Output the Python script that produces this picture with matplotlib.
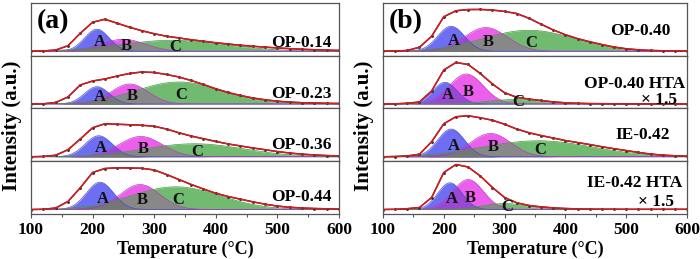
import numpy as np
import matplotlib
matplotlib.use('Agg')
import matplotlib.pyplot as plt
from matplotlib.ticker import MultipleLocator

plt.rcParams['font.family'] = ['Liberation Serif', 'DejaVu Serif']
plt.rcParams['font.weight'] = 'bold'

# Temperature grid of the read-off TPD profiles (deg C)
temperature = np.arange(100, 601, 20)

op014 = [0, 0.3, 1.2, 5.5, 18, 29, 32, 28, 24, 20.5, 17.5, 15, 13.3, 11.5, 10, 8.5,
         7.2, 6, 5, 4.1, 3.3, 2.6, 2, 1.5, 1.1, 0.8]
op023 = [0, 0.2, 1.5, 7, 19, 23, 25, 28, 30.5, 32, 31.5, 29.5, 27, 23.5, 19.5, 15.2,
         11.5, 8.5, 6, 4.2, 2.8, 1.9, 1.3, 1, 0.7, 0.5]
op036 = [0, 0.3, 1.5, 7, 17.7, 29, 33, 32.5, 32, 31.5, 30.5, 27.7, 24, 20.7, 18, 15.3,
         12.8, 10.8, 8.8, 7, 5.2, 3.7, 2.6, 1.8, 1.2, 0.8]
op044 = [0, 0.2, 1.5, 8, 21.7, 37, 41, 41.7, 41.5, 41.2, 39.5, 35, 30, 25, 20.5, 16.2,
         13, 10.3, 7.7, 5.3, 3.4, 2.2, 1.5, 1, 0.7, 0.5]
op040 = [0, 0.2, 0.8, 4, 15, 34.5, 40.5, 41.7, 41.8, 41.2, 39.8, 37.7, 33, 27, 21.3, 16.5,
         12.6, 9.5, 6.7, 4.2, 2.5, 1.4, 0.8, 0.5, 0.3, 0.2]
op040_hta = [0, 0.2, 0.7, 2, 13, 34, 41.5, 39.5, 30.5, 20, 11.2, 6.7, 4.9, 3.5, 2.1, 1.2,
             0.7, 0.4, 0.3, 0.2, 0.1, 0.1, 0.1, 0.1, 0.1, 0.1]
ie042 = [0, 0.2, 0.8, 2.5, 15, 33, 40, 41, 39, 36.5, 32.5, 27.7, 24, 21.2, 18.7, 16.2,
         14.2, 12.2, 10, 8, 6.2, 4.3, 2.7, 1.6, 1, 0.6]
ie042_hta = [0, 0.2, 0.8, 2, 12, 37, 45, 42.5, 33.5, 22, 12, 6.7, 4, 2.6, 1.6, 1,
             0.6, 0.4, 0.3, 0.3, 0.2, 0.2, 0.2, 0.2, 0.2, 0.2]

# Gaussian components A, B, C: (centre deg C, sigma deg C, height a.u.)
peaks_op014 = [(207, 20, 22), (250, 35, 12), (330, 85, 11)]
peaks_op023 = [(207, 20, 17.3), (260, 30, 20), (340, 70, 22)]
peaks_op036 = [(210, 22, 21), (278, 35, 20.3), (365, 80, 13)]
peaks_op044 = [(212, 22, 27.3), (277, 32, 25), (335, 72, 22.7)]
peaks_op040 = [(212, 22, 25), (269, 35, 23.7), (340, 75, 21)]
peaks_op040_hta = [(202, 20, 21.7), (237, 28, 30), (318, 45, 4.5)]
peaks_ie042 = [(212, 22, 27.7), (277, 33, 23.3), (355, 90, 16)]
peaks_ie042_hta = [(210, 20, 26.7), (240, 25, 30), (300, 35, 6)]

names_a = ['OP-0.14', 'OP-0.23', 'OP-0.36', 'OP-0.44']
names_b = ['OP-0.40', 'OP-0.40 HTA', 'IE-0.42', 'IE-0.42 HTA']
scale_b = ['', '\u00d7 1.5', '', '\u00d7 1.5']

panel_a = [(op014, peaks_op014), (op023, peaks_op023), (op036, peaks_op036), (op044, peaks_op044)]
panel_b = [(op040, peaks_op040), (op040_hta, peaks_op040_hta), (ie042, peaks_ie042),
           (ie042_hta, peaks_ie042_hta)]

# where the sample names sit (axes fractions)
name_pos_a = [(0.977, 0.25), (0.977, 0.28), (0.977, 0.31), (0.977, 0.33)]
name_pos_b = [(0.947, 0.46), (0.993, 0.47), (0.944, 0.5), (0.984, 0.58)]
scale_pos_b = [None, (0.967, 0.17), None, (0.957, 0.22)]

col_A = '#6e6ef2'
col_B = '#ec5eec'
col_C = '#70bb70'
col_AB = '#9a48d4'
col_BC = '#888888'
col_AC = '#6a6a9c'
col_ABC = '#767676'

T_fine = np.linspace(100, 600, 501)


def gauss(c, s, h):
    return h*np.exp(-(T_fine-c)**2/(2*s**2))


fig = plt.figure(figsize=(7.0, 2.59), dpi=100)

top_px = 3
bot_px = 214
row_px = (bot_px-top_px)/4.0
panels = [(31, 308, panel_a, names_a, name_pos_a, [''] * 4, [None] * 4, '(a)'),
          (383, 304, panel_b, names_b, name_pos_b, scale_b, scale_pos_b, '(b)')]

for left_px, width_px, rows, names, npos, scales, spos, tag in panels:
    axs = []
    for i in range(4):
        y0 = 1-(top_px+(i+1)*row_px)/259.0
        ax = fig.add_axes([left_px/700.0, y0, width_px/700.0, row_px/259.0])
        axs.append(ax)
        prof, pk = rows[i]
        gA = gauss(*pk[0])
        gB = gauss(*pk[1])
        gC = gauss(*pk[2])
        ax.fill_between(T_fine, 0, gA, color=col_A, lw=0)
        ax.fill_between(T_fine, 0, gB, color=col_B, lw=0)
        ax.fill_between(T_fine, 0, gC, color=col_C, lw=0)
        ax.fill_between(T_fine, 0, np.minimum(gA, gB), color=col_AB, lw=0)
        ax.fill_between(T_fine, 0, np.minimum(gB, gC), color=col_BC, lw=0)
        ax.fill_between(T_fine, 0, np.minimum(gA, gC), color=col_AC, lw=0)
        ax.fill_between(T_fine, 0, np.minimum(np.minimum(gA, gB), gC), color=col_ABC, lw=0)
        ax.plot(T_fine, gA, color='#4a4ad8', lw=0.5)
        ax.plot(T_fine, gB, color='#c030c0', lw=0.5)
        ax.plot(T_fine, gC, color='#3f9a3f', lw=0.5)
        ax.plot(temperature, prof, color='#333333', lw=1.1, marker='o', ms=1.1)
        ax.plot(temperature, prof, color='#e8141c', lw=1.0)

        for lab, p in zip(['A', 'B', 'C'], pk):
            ax.text(p[0]+4, 0.4*p[2], lab, fontsize=12, fontweight='bold',
                    ha='center', va='center', color='#111111')

        ax.text(npos[i][0], npos[i][1], names[i], transform=ax.transAxes, ha='right',
                va='center', fontsize=12.5, fontweight='bold')
        if spos[i] is not None:
            ax.text(spos[i][0], spos[i][1], scales[i], transform=ax.transAxes, ha='right',
                    va='center', fontsize=12.5, fontweight='bold')

        ax.set_xlim(100, 600)
        ax.set_ylim(-4.5, row_px-4.5)
        ax.set_yticks([])
        ax.xaxis.set_major_locator(MultipleLocator(100))
        ax.xaxis.set_minor_locator(MultipleLocator(50))
        ax.tick_params(axis='x', which='major', direction='out', length=3, width=0.8,
                       color='#555555', labelsize=12.5, pad=3)
        ax.tick_params(axis='x', which='minor', direction='out', length=2.5, width=0.8,
                       color='#555555')
        for sp in ax.spines.values():
            sp.set_color('#555555')
            sp.set_linewidth(0.9)
        if i < 3:
            ax.tick_params(axis='x', labelbottom=False)
        else:
            for t in ax.get_xticklabels():
                t.set_fontweight('bold')
            ax.set_xlabel('Temperature (\u00b0C)', fontsize=13, fontweight='bold', labelpad=2)

    axs[0].text(0.02, 0.64, tag, transform=axs[0].transAxes, fontsize=20,
                fontweight='bold', ha='left', va='center')
    fig.text((left_px-19)/700.0, 1-126/259.0, 'Intensity (a.u.)', rotation=90,
             fontsize=15, fontweight='bold', ha='center', va='center')

fig.savefig('out.png', dpi=100)
